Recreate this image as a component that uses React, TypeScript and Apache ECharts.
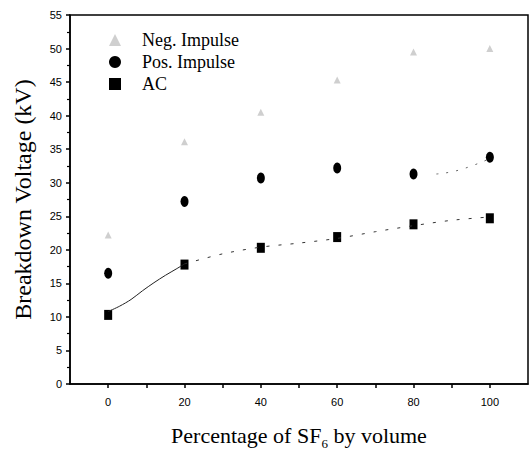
import React, { useEffect, useRef } from "react";
import * as echarts from "echarts";

const xValues = [0, 20, 40, 60, 80, 100];
const negImpulse = [22.2, 36.1, 40.5, 45.3, 49.5, 50.0];
const posImpulse = [16.5, 27.2, 30.7, 32.2, 31.3, 33.8];
const acValues = [10.3, 17.8, 20.3, 21.9, 23.8, 24.7];

const acFitSolidX = [0, 3, 6, 9, 12, 15, 18, 20];
const acFitSolidY = [10.8, 11.6, 12.6, 13.9, 15.1, 16.2, 17.2, 17.9];
const acFitDashX = [20, 30, 40, 50, 60, 70, 80, 90, 100];
const acFitDashY = [17.9, 19.4, 20.4, 21.0, 21.7, 22.7, 23.6, 24.4, 24.9];
const posFitX = [86, 92, 100];
const posFitY = [31.3, 31.9, 33.6];

const serif = "'Liberation Serif', 'Times New Roman', serif";
const sans = "'Liberation Sans', Arial, sans-serif";

export default function App() {
  const ref = useRef<HTMLDivElement>(null);
  useEffect(() => {
    if (!ref.current) return;
    const chart = echarts.init(ref.current, undefined, { renderer: "svg" });
    const pairs = (xs: number[], ys: number[]) => xs.map((x, i) => [x, ys[i]]);
    chart.setOption({
      animation: false,
      backgroundColor: "#fff",
      grid: {
        left: 70,
        right: 3,
        top: 15,
        bottom: 62,
        show: true,
        borderColor: "#000",
        borderWidth: 1.5,
      },
      legend: {
        left: 104,
        top: 26,
        orient: "vertical",
        itemGap: 4,
        itemWidth: 12,
        itemHeight: 12,
        textStyle: { fontFamily: serif, fontSize: 18, color: "#000", padding: [0, 0, 0, 16] },
        data: ["Neg. Impulse", "Pos. Impulse", "AC"],
      },
      xAxis: {
        type: "value",
        min: -10,
        max: 110,
        interval: 10,
        name: "Percentage of SF{sub|6} by volume",
        nameLocation: "middle",
        nameGap: 37,
        nameTextStyle: {
          fontFamily: serif,
          fontSize: 22,
          color: "#000",
          rich: {
            sub: { fontFamily: serif, fontSize: 13, color: "#000", verticalAlign: "bottom", padding: [16, 0, 0, 0] },
          },
        },
        axisLine: { onZero: false, lineStyle: { color: "#000", width: 1.5 } },
        axisTick: { lineStyle: { color: "#000", width: 1.5 }, length: 4 },
        axisLabel: {
          fontFamily: sans,
          fontSize: 11,
          color: "#000",
          margin: 12,
          showMinLabel: false,
          showMaxLabel: false,
          formatter: (v: number) => (v % 20 === 0 && v >= 0 && v <= 100 ? String(v) : ""),
        },
        splitLine: { show: false },
      },
      yAxis: {
        type: "value",
        min: 0,
        max: 55,
        interval: 5,
        name: "Breakdown Voltage (kV)",
        nameLocation: "middle",
        nameGap: 35,
        nameTextStyle: { fontFamily: serif, fontSize: 24, color: "#000" },
        axisLine: { onZero: false, lineStyle: { color: "#000", width: 1.5 } },
        axisTick: { lineStyle: { color: "#000", width: 1.5 }, length: 4 },
        minorTick: { show: true, splitNumber: 2, length: 3, lineStyle: { color: "#000", width: 1.2 } },
        axisLabel: { fontFamily: sans, fontSize: 11, color: "#000", margin: 8 },
        splitLine: { show: false },
      },
      series: [
        {
          name: "AC fit solid",
          type: "line",
          smooth: 0.3,
          symbol: "none",
          data: pairs(acFitSolidX, acFitSolidY),
          lineStyle: { color: "#222", width: 1 },
          silent: true,
        },
        {
          name: "AC fit",
          type: "line",
          smooth: 0.3,
          symbol: "none",
          data: pairs(acFitDashX, acFitDashY),
          lineStyle: { color: "#333", width: 1, type: [3, 9] },
          silent: true,
        },
        {
          name: "Pos fit",
          type: "line",
          smooth: true,
          symbol: "none",
          data: pairs(posFitX, posFitY),
          lineStyle: { color: "#666", width: 1, type: [2, 8] },
          silent: true,
        },
        {
          name: "Neg. Impulse",
          type: "scatter",
          symbol: "triangle",
          symbolSize: [7, 7],
          itemStyle: { color: "#cfcfcf", opacity: 1 },
          data: pairs(xValues, negImpulse),
        },
        {
          name: "Pos. Impulse",
          type: "scatter",
          symbol: "circle",
          symbolSize: [8, 11],
          itemStyle: { color: "#000", opacity: 1 },
          data: pairs(xValues, posImpulse),
        },
        {
          name: "AC",
          type: "scatter",
          symbol: "rect",
          symbolSize: [8, 10],
          itemStyle: { color: "#000", opacity: 1 },
          data: pairs(xValues, acValues),
        },
      ],
    });
    return () => chart.dispose();
  }, []);
  return <div ref={ref} style={{ position: "absolute", left: 0, top: 0, width: 531, height: 455 }} />;
}
